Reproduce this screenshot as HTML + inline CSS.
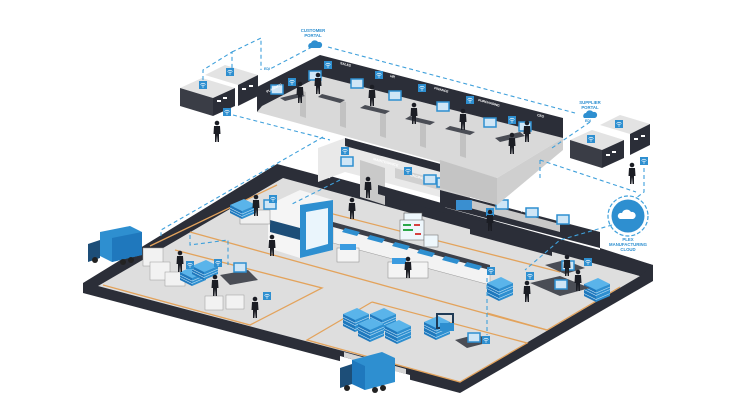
<!DOCTYPE html>
<html><head><meta charset="utf-8"><style>
html,body{margin:0;padding:0;background:#fff}
svg{display:block}
text{font-family:"Liberation Sans",sans-serif;font-weight:bold}
</style></head><body>
<svg width="736" height="414" viewBox="0 0 736 414" xmlns="http://www.w3.org/2000/svg">
<defs>
<g id="p"><circle cx="0" cy="-13" r="2.3" fill="#1b1d24"/><path d="M-3,-10 L3,-10 L3.5,-2 L2,-2 L2,6 L0.6,6 L0,-1 L-0.6,6 L-2,6 L-2,-2 L-3.5,-2 Z" fill="#1b1d24"/></g>
<g id="w"><rect x="-4" y="-4" width="8" height="8" fill="#2e8fd0"/><path d="M-2.5,-0.5 Q0,-3 2.5,-0.5 M-1.5,0.8 Q0,-0.6 1.5,0.8" stroke="#fff" stroke-width="0.7" fill="none"/><circle cx="0" cy="2" r="0.6" fill="#fff"/></g>
<g id="m"><rect x="-6" y="-5" width="12" height="9" fill="#cfe6f6" stroke="#2e8fd0" stroke-width="1.5"/></g>
<g id="s"><path d="M0,0 L14,-6 L26,0 L12,6 Z" fill="#5ab4ea"/><path d="M0,0 L12,6 L12,14 L0,8 Z" fill="#1f78bd"/><path d="M12,6 L26,0 L26,8 L12,14 Z" fill="#2e8fd0"/><path d="M0,3 L12,9 L26,3 M0,5.5 L12,11.5 L26,5.5" stroke="#bfe0f5" stroke-width="0.6" fill="none"/></g>
</defs>

<!-- ============ FACTORY FLOOR ============ -->
<polygon points="277,164 653,265 653,281 460,393 83,293 83,283" fill="#2b2e38"/>
<polygon points="283,178 640,276 460,382 98,286" fill="#dedede"/>
<polygon points="340,356 410,375 410,396 340,378" fill="#ffffff"/>
<polygon points="344,352 406,369 406,374 344,357" fill="#d6d6d6"/>
<polygon points="330,176 600,250 600,262 330,190" fill="#2b2e38"/>
<polygon points="600,248 653,265 640,276 600,264" fill="#2b2e38"/>
<!-- lower offices -->
<polygon points="318,148 345,138 470,172 470,205 345,172 318,182" fill="#e9e9e9"/>
<polygon points="345,138 470,172 470,180 345,146" fill="#2b2e38"/>
<polygon points="360,160 385,168 385,205 360,197" fill="#c9c9c9"/>
<polygon points="378,185 445,204 445,213 378,194" fill="#2b2e38"/>
<polygon points="395,168 470,188 470,198 395,178" fill="#d0d0d0"/>
<polygon points="440,190 600,232 600,248 440,206" fill="#2b2e38"/>
<polygon points="470,200 560,224 560,232 470,208" fill="#c8c8c8"/>
<polygon points="470,218 552,240 552,256 470,234" fill="#2b2e38"/>
<text x="373" y="160" font-size="3.5" fill="#fff" transform="rotate(15 373 160)">MAINTENANCE</text>
<text x="410" y="176" font-size="3.5" fill="#fff" transform="rotate(15 410 176)">ENGINEERING</text>
<text x="520" y="211" font-size="3.5" fill="#fff" transform="rotate(15 520 211)">QUALITY</text>
<use href="#m" x="347" y="162"/><use href="#m" x="430" y="180"/><use href="#m" x="443" y="183"/>
<use href="#m" x="502" y="205"/><use href="#m" x="532" y="213"/><use href="#m" x="563" y="220"/>
<use href="#w" x="345" y="151"/><use href="#w" x="408" y="171"/><use href="#w" x="490" y="212"/>
<rect x="456" y="200" width="16" height="10" fill="#3a8fd0"/><rect x="404" y="213" width="18" height="16" fill="#eef7fc" stroke="#555" stroke-width="0.6"/>
<use href="#p" x="368" y="192"/><use href="#p" x="490" y="225"/>

<g stroke="#e3a35c" stroke-width="1.3" fill="none">
<polyline points="103,285 250,325 322,288 175,250"/>
<polyline points="190,232 480,312 547,330"/>
<polyline points="290,203 560,272"/>
<polyline points="372,302 527,343 460,382 307,340 372,302"/>
<polyline points="487,313 547,330 620,287"/>
<polyline points="150,246 277,185"/>
</g>

<polygon points="333,225 490,268 490,285 333,243" fill="#f3f3f3" stroke="#999" stroke-width="0.5"/>
<polygon points="333,222 490,265 490,270 333,227" fill="#3c3f48"/>
<g fill="#2e8fd0"><polygon points="345,228 360,232 357,236 342,232"/><polygon points="370,235 385,239 382,243 367,239"/><polygon points="395,242 410,246 407,250 392,246"/><polygon points="420,249 435,253 432,257 417,253"/><polygon points="445,256 460,260 457,264 442,260"/><polygon points="467,262 482,266 479,270 464,266"/></g>
<polygon points="268,205 300,190 333,200 333,250 300,258 268,248" fill="#f5f5f5"/>
<polygon points="300,205 333,200 333,250 300,258" fill="#2e8fd0"/>
<polygon points="306,212 328,208 328,244 306,250" fill="#eaf5fc"/>
<polygon points="270,220 300,228 300,240 270,232" fill="#1d4e78"/>
<rect x="240" y="210" width="30" height="14" fill="#f0f0f0" stroke="#888" stroke-width="0.5"/>
<use href="#s" x="230" y="205"/>
<use href="#m" x="270" y="205"/>
<rect x="337" y="248" width="22" height="14" fill="#f4f4f4" stroke="#888" stroke-width="0.5"/><rect x="340" y="244" width="16" height="6" fill="#3a9be0"/>
<rect x="388" y="262" width="40" height="16" fill="#f4f4f4" stroke="#888" stroke-width="0.5"/><rect x="392" y="258" width="14" height="6" fill="#3a9be0"/>
<rect x="400" y="220" width="24" height="20" fill="#eef7fc" stroke="#777" stroke-width="0.6"/>
<g fill="#2aa84a"><rect x="403" y="224" width="8" height="2"/><rect x="403" y="229" width="10" height="2"/></g><g fill="#d64040"><rect x="414" y="224" width="6" height="2"/><rect x="415" y="233" width="6" height="2"/></g>
<rect x="424" y="235" width="14" height="12" fill="#eef7fc" stroke="#777" stroke-width="0.6"/>
<use href="#p" x="256" y="210"/><use href="#p" x="272" y="250"/><use href="#p" x="408" y="272"/><use href="#p" x="352" y="213"/>

<rect x="143" y="248" width="20" height="18" fill="#f2f2f2" stroke="#999" stroke-width="0.5"/>
<rect x="150" y="262" width="20" height="18" fill="#f2f2f2" stroke="#999" stroke-width="0.5"/>
<rect x="165" y="272" width="20" height="14" fill="#f2f2f2" stroke="#999" stroke-width="0.5"/>
<use href="#s" x="180" y="272"/><use href="#s" x="192" y="266"/>
<polygon points="220,275 248,270 258,280 230,285" fill="#4a4d55"/><use href="#m" x="240" y="268"/>
<rect x="205" y="296" width="18" height="14" fill="#f2f2f2" stroke="#999" stroke-width="0.5"/>
<rect x="226" y="295" width="18" height="14" fill="#f2f2f2" stroke="#999" stroke-width="0.5"/>
<use href="#p" x="180" y="266"/><use href="#p" x="215" y="290"/><use href="#p" x="255" y="312"/>
<use href="#w" x="190" y="265"/><use href="#w" x="218" y="263"/><use href="#w" x="267" y="296"/><use href="#w" x="273" y="199"/>

<use href="#s" x="343" y="318"/><use href="#s" x="370" y="318"/><use href="#s" x="358" y="328"/><use href="#s" x="385" y="330"/>
<use href="#s" x="343" y="314"/><use href="#s" x="370" y="314"/><use href="#s" x="358" y="324"/><use href="#s" x="385" y="326"/>
<use href="#s" x="424" y="326"/><use href="#s" x="424" y="322"/>
<rect x="437" y="314" width="16" height="14" fill="none" stroke="#1f3a55" stroke-width="2"/><rect x="440" y="323" width="14" height="8" fill="#2e8fd0"/>
<polygon points="455,340 478,334 490,342 467,348" fill="#4a4d55"/><use href="#m" x="474" y="338"/>
<use href="#w" x="486" y="340"/>

<use href="#s" x="487" y="287"/><use href="#s" x="487" y="283"/>
<use href="#s" x="584" y="288"/><use href="#s" x="584" y="284"/>
<polygon points="530,283 560,276 590,288 560,296" fill="#4a4d55"/>
<polygon points="545,265 565,260 585,268 565,274" fill="#4a4d55"/>
<use href="#m" x="561" y="285"/><use href="#m" x="568" y="266"/>
<use href="#p" x="527" y="296"/><use href="#p" x="578" y="285"/><use href="#p" x="567" y="270"/>
<use href="#w" x="530" y="276"/><use href="#w" x="588" y="262"/><use href="#w" x="491" y="271"/>

<g><polygon points="100,232 130,226 142,232 142,255 112,262 100,256" fill="#2e8fd0"/><polygon points="112,238 142,232 142,255 112,262" fill="#1f78bd"/><polygon points="88,244 100,240 100,258 88,262" fill="#1d4e78"/><circle cx="95" cy="260" r="3" fill="#222"/><circle cx="123" cy="262" r="3" fill="#222"/><circle cx="131" cy="260" r="3" fill="#222"/></g>
<g><polygon points="352,360 382,352 395,358 395,382 365,390 352,384" fill="#2e8fd0"/><polygon points="352,360 365,366 365,390 352,384" fill="#1f78bd"/><polygon points="340,368 352,364 352,384 340,388" fill="#1d4e78"/><circle cx="347" cy="388" r="3" fill="#222"/><circle cx="375" cy="390" r="3" fill="#222"/><circle cx="383" cy="388" r="3" fill="#222"/></g>

<!-- ============ UPPER OFFICE ============ -->
<polygon points="262,106 320,76 563,138 497,178 257,112" fill="#d9d9d9"/>
<polygon points="440,160 497,178 497,205 440,188" fill="#c4c4c4"/>
<polygon points="497,178 563,138 563,150 497,205" fill="#cfcfcf"/>
<polygon points="257,87 320,55 563,118 563,138 320,76 262,106 257,112" fill="#2b2e38"/>
<g fill="#c2c2c2"><polygon points="300,90 306,92 306,118 300,116"/><polygon points="340,100 346,102 346,128 340,126"/><polygon points="380,110 386,112 386,138 380,136"/><polygon points="420,120 426,122 426,148 420,146"/><polygon points="460,130 466,132 466,158 460,156"/></g>
<g fill="#4a4d55"><polygon points="280,98 300,93 305,96 285,101"/><polygon points="322,94 345,100 340,103 318,97"/><polygon points="365,105 390,111 385,114 360,108"/><polygon points="410,116 435,122 430,125 405,119"/><polygon points="450,126 475,132 470,135 445,129"/><polygon points="495,138 520,132 525,136 500,142"/></g>
<use href="#m" x="277" y="90"/><use href="#m" x="315" y="76"/><use href="#m" x="357" y="84"/><use href="#m" x="395" y="96"/><use href="#m" x="443" y="107"/><use href="#m" x="490" y="123"/><use href="#m" x="525" y="127"/>
<use href="#w" x="292" y="82"/><use href="#w" x="328" y="65"/><use href="#w" x="379" y="75"/><use href="#w" x="422" y="88"/><use href="#w" x="470" y="100"/><use href="#w" x="512" y="120"/>
<g font-size="3.3" fill="#fff">
<text x="267" y="93" transform="rotate(-27 267 93)">PLANNING</text>
<text x="340" y="64" transform="rotate(15 340 64)">SALES</text>
<text x="390" y="77" transform="rotate(15 390 77)">HR</text>
<text x="434" y="89" transform="rotate(15 434 89)">FINANCE</text>
<text x="478" y="101" transform="rotate(15 478 101)">PURCHASING</text>
<text x="537" y="116" transform="rotate(15 537 116)">CEO</text>
</g>
<use href="#p" x="300" y="97"/><use href="#p" x="318" y="88"/><use href="#p" x="372" y="100"/><use href="#p" x="414" y="118"/><use href="#p" x="463" y="124"/><use href="#p" x="527" y="136"/><use href="#p" x="512" y="148"/>

<!-- ============ BUILDINGS ============ -->
<polygon points="205,75 225,65 258,75 238,85" fill="#e3e3e3"/><polygon points="238,85 258,75 258,96 238,106" fill="#2b2e38"/>
<polygon points="180,88 202,78 235,88 213,98" fill="#e3e3e3"/><polygon points="180,88 213,98 213,116 180,106" fill="#3a3d46"/><polygon points="213,98 235,88 235,106 213,116" fill="#2b2e38"/>
<g fill="#fff"><rect x="217" y="100" width="4" height="2"/><rect x="223" y="97" width="4" height="2"/><rect x="242" y="88" width="4" height="2"/><rect x="249" y="85" width="4" height="2"/></g>
<use href="#w" x="203" y="85"/><use href="#w" x="230" y="72"/><use href="#w" x="227" y="112"/><use href="#p" x="217" y="136"/>
<polygon points="600,125 620,115 650,124 630,134" fill="#e3e3e3"/><polygon points="630,134 650,124 650,145 630,155" fill="#2b2e38"/>
<polygon points="570,140 592,130 624,140 602,150" fill="#e3e3e3"/><polygon points="570,140 602,150 602,168 570,158" fill="#3a3d46"/><polygon points="602,150 624,140 624,158 602,168" fill="#2b2e38"/>
<g fill="#fff"><rect x="606" y="154" width="4" height="2"/><rect x="612" y="151" width="4" height="2"/><rect x="634" y="138" width="4" height="2"/><rect x="641" y="135" width="4" height="2"/></g>
<use href="#w" x="591" y="139"/><use href="#w" x="619" y="124"/><use href="#w" x="644" y="161"/><use href="#p" x="632" y="178"/>

<!-- ============ DASHED CONNECTORS ============ -->
<g stroke="#3fa0db" stroke-width="1.1" fill="none" stroke-dasharray="4,3">
<polyline points="203,80 203,70 232,52 232,70"/>
<polyline points="232,52 261,38 261,70"/>
<polyline points="312,47 268,70"/>
<polyline points="328,47 575,113"/>
<polyline points="233,115 330,140"/>
<polyline points="323,137 161,230 161,236"/>
<polyline points="540,160 636,192"/>
<polyline points="590,122 552,148"/>
<polyline points="644,168 644,192 636,198"/>
<polyline points="612,225 560,240 525,270"/>
<polyline points="190,235 190,245 228,240 228,265"/>
<polyline points="487,278 487,335"/>
<polyline points="540,160 540,178"/>
<polyline points="340,180 290,205"/>
</g>

<g fill="#2e8fd0">
<path d="M309,48 a3,3 0 0 1 2,-5 a4,4 0 0 1 7,-1 a3,3 0 0 1 2,6 Z"/>
<path d="M584,118 a3,3 0 0 1 2,-5 a4,4 0 0 1 7,-1 a3,3 0 0 1 2,6 Z"/>
</g>
<circle cx="628" cy="216" r="20" fill="none" stroke="#3fa0db" stroke-width="1.2" stroke-dasharray="4,2"/>
<circle cx="628" cy="216" r="16.5" fill="#2e8fd0"/>
<path d="M620,219 a3,3 0 0 1 2,-6 a5,5 0 0 1 9,-1 a3.5,3.5 0 0 1 2,7 Z" fill="#fff"/>
<g font-size="4.3" fill="#2e8fd0" text-anchor="middle">
<text x="313" y="32">CUSTOMER</text><text x="313" y="37">PORTAL</text>
<text x="590" y="104">SUPPLIER</text><text x="590" y="109">PORTAL</text>
<text x="628" y="241">PLEX</text><text x="628" y="246">MANUFACTURING</text><text x="628" y="251">CLOUD</text>
</g>
<g font-size="3.5" fill="#2e8fd0"><text x="264" y="70">EDI</text><text x="585" y="122">EDI</text></g>
</svg>
</body></html>
